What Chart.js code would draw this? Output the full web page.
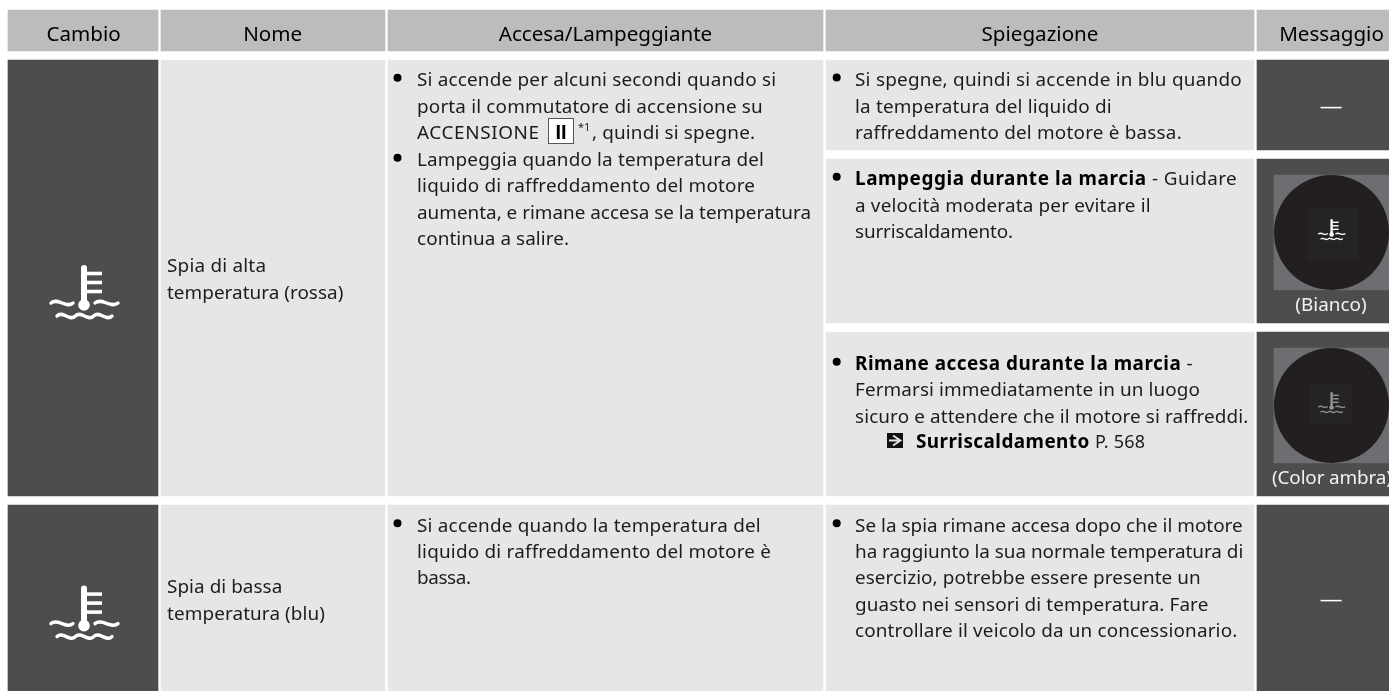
<!DOCTYPE html>
<html lang="it"><head><meta charset="utf-8">
<style>html,body{margin:0;padding:0;background:#fff;overflow:hidden}canvas{display:block}</style>
<script src="https://cdn.jsdelivr.net/npm/chart.js@4"></script></head>
<body><canvas id="c" width="1389" height="691"></canvas>
<script>
// ---- content ----
const columnHeaders = ['Cambio','Nome','Accesa/Lampeggiante','Spiegazione','Messaggio'];
const rowNames = [['Spia di alta','temperatura (rossa)'],['Spia di bassa','temperatura (blu)']];
const accesaHigh1 = ['Si accende per alcuni secondi quando si','porta il commutatore di accensione su'];
const accesaHigh1End = ['ACCENSIONE','II','*1',', quindi si spegne.'];
const accesaHigh2 = ['Lampeggia quando la temperatura del','liquido di raffreddamento del motore','aumenta, e rimane accesa se la temperatura','continua a salire.'];
const accesaLow = ['Si accende quando la temperatura del','liquido di raffreddamento del motore è','bassa.'];
const spiegazione1 = ['Si spegne, quindi si accende in blu quando','la temperatura del liquido di','raffreddamento del motore è bassa.'];
const spiegazione2Bold = 'Lampeggia durante la marcia';
const spiegazione2 = ['- Guidare','a velocità moderata per evitare il','surriscaldamento.'];
const spiegazione3Bold = 'Rimane accesa durante la marcia';
const spiegazione3 = ['-','Fermarsi immediatamente in un luogo','sicuro e attendere che il motore si raffreddi.'];
const crossRefBold = 'Surriscaldamento';
const crossRefPage = 'P. 568';
const spiegazione4 = ['Se la spia rimane accesa dopo che il motore','ha raggiunto la sua normale temperatura di','esercizio, potrebbe essere presente un','guasto nei sensori di temperatura. Fare','controllare il veicolo da un concessionario.'];
const messageLabels = ['(Bianco)','(Color ambra)'];
const messageDash = '—';

// ---- table geometry, in the units of the two hidden linear axes ----
const colCenters = [83, 273, 605.5, 1040, 1323];
const colWidths = [150, 224, 435, 428, 132];
const rowBands = [[60,496],[505,691]];
const headerBand = [10,51];
const explainBands = [[60,150],[159,323],[332,496],[505,691]];
const messageFaces = [[175,290],[348,463]];
const faceInner = [[208,260],[385,423]];
const faceCentersY = [232.5,405.5];
const faceX = 1331.5;

const GREY_H='#bcbcbc', LIGHT='#e6e6e6', DARK='#4d4d4d', INK='#1c1c1c';
const FONT='"Noto Sans"', SIZE=18.9, HEAD=20.6;

function bars(xc,w,bands,color,order){
  return {type:'bar',data:bands.map(b=>({x:xc,y:b})),backgroundColor:color,barThickness:w,grouped:false,order,borderWidth:0,borderSkipped:false};
}
const datasets=[];
colCenters.forEach((xc,i)=>datasets.push(bars(xc,colWidths[i],[headerBand],GREY_H,9)));
datasets.push(bars(colCenters[0],colWidths[0],rowBands,DARK,8));
datasets.push(bars(colCenters[1],colWidths[1],rowBands,LIGHT,8));
datasets.push(bars(colCenters[2],colWidths[2],rowBands,LIGHT,8));
datasets.push(bars(colCenters[3],colWidths[3],explainBands,LIGHT,8));
datasets.push(bars(colCenters[4],colWidths[4],explainBands,DARK,8));
datasets.push(bars(1331.5,115,messageFaces,'#6d6e71',7));
datasets.push({type:'scatter',data:faceCentersY.map(y=>({x:faceX,y})),pointRadius:57.5,pointHoverRadius:57.5,pointBackgroundColor:'#231f20',pointBorderWidth:0,showLine:false,order:6});
datasets.push(bars(1332.5,51,[faceInner[0]],'#262324',5));
datasets.push(bars(1331.5,43,[faceInner[1]],'#262324',5));

function icon(ctx,cx,topY,s,color){
  ctx.save();ctx.translate(cx,topY);ctx.scale(s,s);
  ctx.strokeStyle=color;ctx.fillStyle=color;ctx.lineCap='round';
  ctx.lineWidth=6;ctx.beginPath();ctx.moveTo(0,3);ctx.lineTo(0,38);ctx.stroke();
  ctx.beginPath();ctx.arc(0,40,5.8,0,Math.PI*2);ctx.fill();
  ctx.lineCap='butt';ctx.lineWidth=3.6;
  [8.5,17.5,26.5].forEach(y=>{ctx.beginPath();ctx.moveTo(2,y);ctx.lineTo(18,y);ctx.stroke();});
  ctx.lineCap='round';ctx.lineWidth=3.4;
  const wave=(x0,y0,w,n)=>{ctx.beginPath();ctx.moveTo(x0,y0);const st=w/n;
    for(let k=0;k<n;k++){const x=x0+k*st;ctx.bezierCurveTo(x+st*.3,y0-6,x+st*.7,y0+6,x+st,y0);}ctx.stroke();};
  wave(-33,38,22,1);wave(11,38,23,1);wave(-27,51,55,3);
  ctx.restore();
}

const textPlugin={id:'tableText',afterDraw(chart){
  const ctx=chart.ctx,X=v=>chart.scales.x.getPixelForValue(v),Y=v=>chart.scales.y.getPixelForValue(v);
  ctx.save();ctx.textBaseline='alphabetic';
  const reg=`${SIZE}px ${FONT}`,bold=`bold ${SIZE}px ${FONT}`;
  const put=(s,x,y,f=reg,c=INK,al='left')=>{ctx.font=f;ctx.fillStyle=c;ctx.textAlign=al;ctx.letterSpacing='0px';ctx.fillText(s,X(x),Y(y));};
  // a line of text that runs from x to end
  const fit=(s,x,end,y,f=reg,c=INK)=>{ctx.font=f;ctx.fillStyle=c;ctx.textAlign='left';ctx.letterSpacing='0px';
    const w=ctx.measureText(s).width;ctx.letterSpacing=((end-x-w)/Math.max(1,s.length-1)).toFixed(3)+'px';
    ctx.fillText(s,X(x),Y(y));ctx.letterSpacing='0px';};
  const bullet=(x,y)=>{ctx.fillStyle='#000';ctx.beginPath();ctx.arc(X(x),Y(y),4,0,Math.PI*2);ctx.fill();};
  const lines=(arr,x,ends,ys)=>arr.forEach((s,i)=>fit(s,x,ends[i],ys[i]));
  const hc=[83.6,272.7,605.5,1040,1331.5];
  columnHeaders.forEach((h,i)=>put(h,hc[i],41,`${HEAD}px ${FONT}`,'#000','center'));
  lines(rowNames[0],167,[266,343.3],[272,299]);lines(rowNames[1],167,[282.3,325],[593,620]);
  const ax=417;
  bullet(397.5,77.7);lines(accesaHigh1,ax,[776,762.7],[86,112.5]);
  fit(accesaHigh1End[0],ax,539,139);
  ctx.fillStyle='#fff';ctx.strokeStyle='#555';ctx.lineWidth=1;ctx.fillRect(X(548.5),Y(118.5),25,25);ctx.strokeRect(X(548.5),Y(118.5),25,25);
  put(accesaHigh1End[1],561,139,`bold 20px "Liberation Sans"`,'#000','center');
  put(accesaHigh1End[2],578,131,`11px ${FONT}`);
  fit(accesaHigh1End[3],592,755,139);
  bullet(397.5,157.7);lines(accesaHigh2,ax,[764,755,811,569],[165.5,192,218.5,245]);
  bullet(397.5,523.3);lines(accesaLow,ax,[760.7,771,471],[531.5,558,584]);
  const sx=855,bx=836.7;
  bullet(bx,77.5);lines(spiegazione1,sx,[1241.7,1111.7,1181.7],[86,113,139]);
  bullet(bx,176.8);fit(spiegazione2Bold,sx,1146,185,bold,'#000');fit(spiegazione2[0],1152,1236.7,185);
  lines(spiegazione2.slice(1),sx,[1150.7,1013],[211.7,238]);
  bullet(bx,361.8);fit(spiegazione3Bold,sx,1180.7,370,bold,'#000');put(spiegazione3[0],1186.5,370);
  lines(spiegazione3.slice(1),sx,[1200,1248.3],[396,422.7]);
  ctx.fillStyle='#111';ctx.fillRect(X(887),Y(433),16,15);
  ctx.strokeStyle=LIGHT;ctx.lineWidth=1.8;ctx.beginPath();
  ctx.moveTo(X(889),Y(440.5));ctx.lineTo(X(900),Y(440.5));ctx.moveTo(X(893),Y(435.5));ctx.lineTo(X(900.5),Y(440.5));ctx.lineTo(X(893),Y(445.5));ctx.stroke();
  fit(crossRefBold,916,1089.3,447.7,bold,'#000');fit(crossRefPage,1095,1145,447.7,`18px ${FONT}`);
  bullet(bx,523.3);lines(spiegazione4,sx,[1242.7,1243.3,1200.7,1208.3,1237.3],[531.7,557.7,584,611,636.7]);
  [113,606].forEach(y=>{ctx.save();ctx.translate(X(1331),Y(y));ctx.scale(1.2,1);ctx.font=reg;ctx.fillStyle='#fff';ctx.textAlign='center';ctx.fillText(messageDash,0,0);ctx.restore();});
  put(messageLabels[0],1331,311,reg,'#f2f2f2','center');
  fit(messageLabels[1],1272,1392,484,reg,'#f2f2f2');
  icon(ctx,X(84),Y(265),1,'#fff');
  icon(ctx,X(84),Y(585.6),1,'#fff');
  icon(ctx,X(1331.6),Y(219),.39,'#fff');
  icon(ctx,X(1331.6),Y(392),.39,'#939393');
  ctx.restore();
}};

new Chart(document.getElementById('c'),{
  data:{datasets},
  options:{responsive:false,animation:false,events:[],
    layout:{padding:0,autoPadding:false},
    plugins:{legend:{display:false},tooltip:{enabled:false},title:{display:false}},
    scales:{
      x:{type:'linear',min:0,max:1389,offset:false,display:false,grid:{display:false}},
      y:{type:'linear',min:0,max:691,reverse:true,display:false,grid:{display:false},stacked:false}
    }},
  plugins:[textPlugin]
});
</script></body></html>
